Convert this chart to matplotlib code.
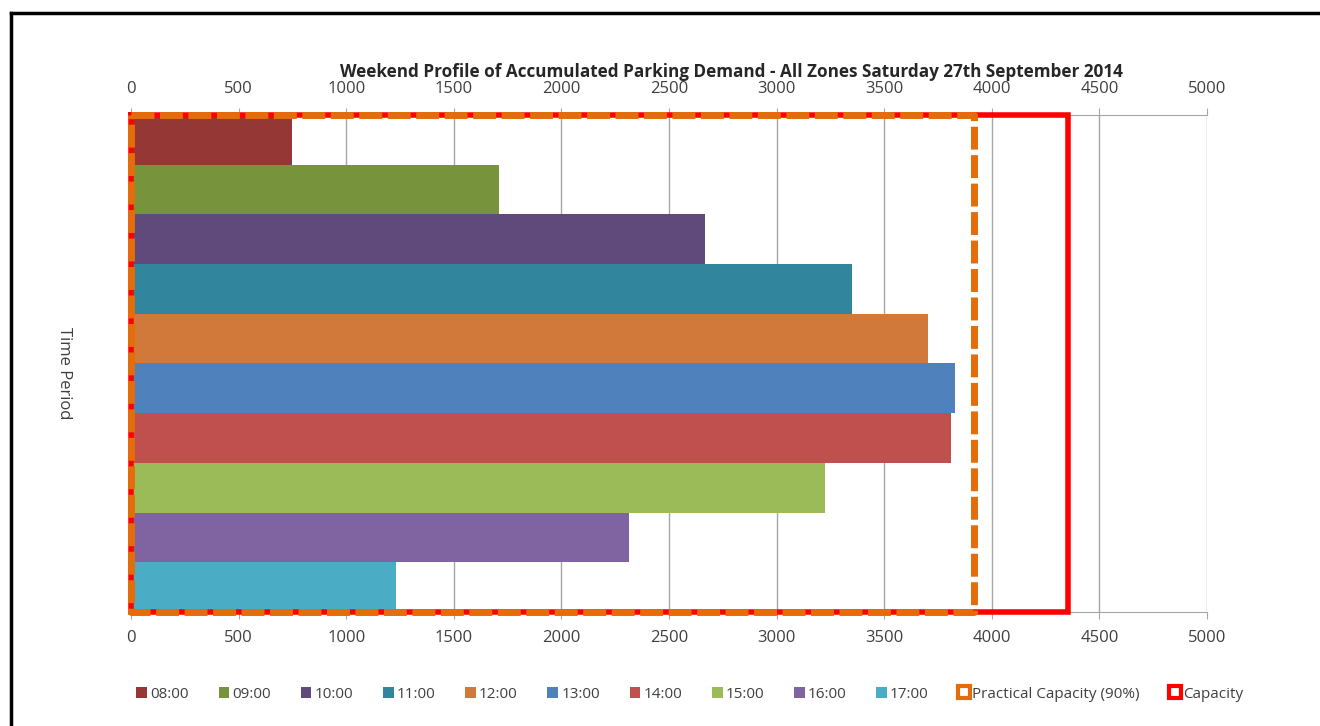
import matplotlib
matplotlib.use('Agg')
import matplotlib.pyplot as plt
from matplotlib.lines import Line2D
from matplotlib.patches import Patch

plt.rcParams['font.family'] = ['Open Sans', 'DejaVu Sans']

# data
periods = ['08:00', '09:00', '10:00', '11:00', '12:00',
           '13:00', '14:00', '15:00', '16:00', '17:00']
demand = [750, 1710, 2665, 3350, 3705, 3830, 3810, 3225, 2315, 1230]
capacity = 4353
practical = 0.9 * capacity

colours = ['#953735', '#77933C', '#604A7B', '#31859C', '#D0793A',
           '#4F81BD', '#C0504D', '#9BBB59', '#8064A2', '#4BACC6']
orange = '#E46C0A'
red = '#FF0000'

fig = plt.figure(figsize=(13.2, 7.26), dpi=100)
ax = fig.add_axes([131/1320, 1 - 612/726, (1207 - 131)/1320, (612 - 115)/726])

ypos = list(range(len(periods)))
ax.barh(ypos, demand, height=1.0, color=colours, zorder=2)
ax.set_ylim(len(periods) - 0.5, -0.5)
ax.set_xlim(0, 5000)
ax.set_xticks(range(0, 5001, 500))
ax.set_yticks([])

ax.grid(axis='x', color='#A6A6A6', linewidth=1, zorder=0)
for s in ['left', 'right']:
    ax.spines[s].set_visible(False)
for s in ['top', 'bottom']:
    ax.spines[s].set_color('#A6A6A6')
ax.tick_params(axis='x', top=True, labeltop=True, bottom=True, labelbottom=True,
               direction='out', length=5, color='#A6A6A6', labelsize=12,
               labelcolor='#404040', pad=8)

# capacity boxes
y0, y1 = -0.5, len(periods) - 0.5
ax.plot([0, capacity, capacity, 0, 0], [y0, y0, y1, y1, y0], color=red,
        linewidth=4, solid_joinstyle='miter', clip_on=False, zorder=4)
ax.plot([0, practical, practical, 0, 0], [y0, y0, y1, y1, y0], color=orange,
        linewidth=5, linestyle=(0, (3.3, 0.8)), clip_on=False, zorder=5)

ax.set_ylabel('Time Period', rotation=270, fontsize=12, color='#404040')
ax.yaxis.set_label_coords(-0.07, 0.48)

fig.text(731/1320, 1 - 72/726, 'Weekend Profile of Accumulated Parking Demand - All Zones Saturday 27th September 2014',
         ha='center', va='center', fontsize=12.3, fontweight='bold', color='#262626')

handles = [Patch(facecolor=c, edgecolor='none') for c in colours]
handles.append(Line2D([], [], linestyle='none', marker='s', markersize=9,
                      markerfacecolor='white', markeredgecolor=orange, markeredgewidth=3))
handles.append(Line2D([], [], linestyle='none', marker='s', markersize=9,
                      markerfacecolor='white', markeredgecolor=red, markeredgewidth=3))
labels = periods + ['Practical Capacity (90%)', 'Capacity']
fig.legend(handles, labels, loc='center', bbox_to_anchor=(690/1320, 1 - 694/726),
           ncol=12, frameon=False, fontsize=11, handlelength=0.7, handleheight=0.7,
           handletextpad=0.2, columnspacing=1.95, labelcolor='#404040')

# outer frame lines
fig.add_artist(Line2D([11/1320, 1], [1 - 13/726, 1 - 13/726], color='black', linewidth=2.5))
fig.add_artist(Line2D([11/1320, 11/1320], [0, 1 - 13/726], color='black', linewidth=2.5))

fig.savefig('out.png', dpi=100)
